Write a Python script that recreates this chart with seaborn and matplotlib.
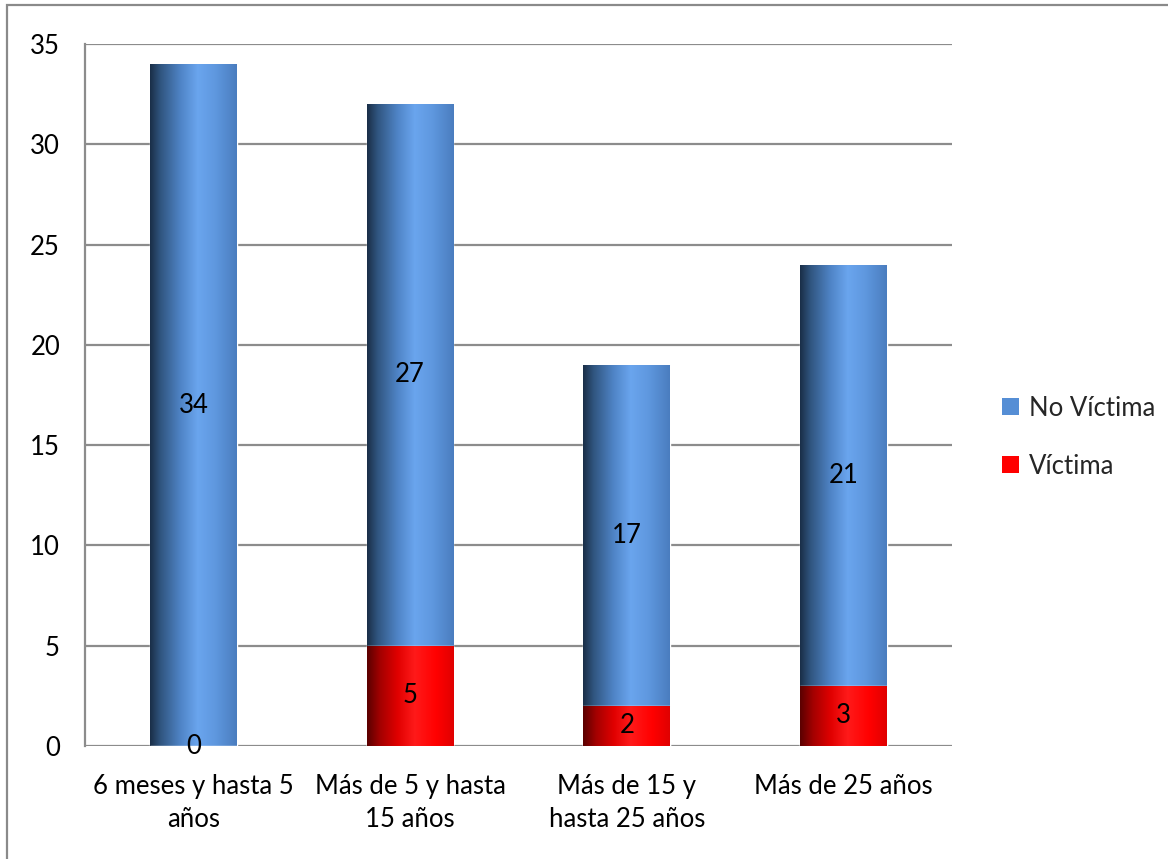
import numpy as np
import pandas as pd
import matplotlib
matplotlib.use("Agg")
import matplotlib.pyplot as plt
from matplotlib.colors import LinearSegmentedColormap
from matplotlib.patches import Patch, Rectangle
import seaborn as sns

# Data
categorias = ["6 meses y hasta 5\naños", "Más de 5 y hasta\n15 años",
              "Más de 15 y\nhasta 25 años", "Más de 25 años"]
no_victima = [34, 27, 17, 21]
victima = [0, 5, 2, 3]

sns.set_theme(style="white")
plt.rcParams["font.family"] = ["Lato", "DejaVu Sans"]

FS = 18.5

df = pd.DataFrame({"categoria": categorias,
                   "no_victima": no_victima,
                   "victima": victima})
df["total"] = df["no_victima"] + df["victima"]

fig = plt.figure(figsize=(11.68, 8.59), dpi=100)
ax = fig.add_axes([0.0728, 0.1315, 0.815 - 0.0728, 0.9488 - 0.1315])

grid_col = "#8c8c8c"
for v in range(0, 36, 5):
    ax.axhline(v, color=grid_col, lw=1.6, zorder=0.5)

# Stacked bars: totals (blue) first, then the Víctima segment (red) on top
sns.barplot(data=df, x="categoria", y="total", color="#558ed5",
            width=0.4, ax=ax, zorder=1, saturation=1)
n_blue = len(ax.patches)
sns.barplot(data=df, x="categoria", y="victima", color="#ff0000",
            width=0.4, ax=ax, zorder=1.5, saturation=1)

blue_cmap = LinearSegmentedColormap.from_list(
    "cil_azul", [(0.0, "#1a2e47"), (0.12, "#30557f"), (0.35, "#4f84c6"),
                 (0.55, "#6aa5ee"), (0.75, "#5f98df"), (1.0, "#4a7dbf")])
red_cmap = LinearSegmentedColormap.from_list(
    "cil_rojo", [(0.0, "#5a0000"), (0.15, "#a30000"), (0.35, "#e00000"),
                 (0.55, "#ff1a1a"), (0.8, "#ff0000"), (1.0, "#e00000")])

grad = np.linspace(0, 1, 256).reshape(1, -1)
for i, p in enumerate(list(ax.patches)):
    x0, y0 = p.get_x(), p.get_y()
    w, h = p.get_width(), p.get_height()
    if h <= 0:
        continue
    cmap = blue_cmap if i < n_blue else red_cmap
    z = 1.2 if i < n_blue else 1.7
    im = ax.imshow(grad, cmap=cmap, aspect="auto",
                   extent=[x0, x0 + w, y0, y0 + h], zorder=z,
                   interpolation="bilinear")
    im.set_clip_path(p)

# Value labels centred in each segment
for i in range(len(df)):
    nv, v = df["no_victima"][i], df["victima"][i]
    ax.text(i, v + nv / 2, str(nv), ha="center", va="center",
            fontsize=FS, color="black", zorder=4)
    ax.text(i, v / 2, str(v), ha="center", va="center",
            fontsize=FS, color="black", zorder=4)

ax.set_xlim(-0.5, 3.5)
ax.set_ylim(0, 35)
ax.set_yticks(range(0, 36, 5))
ax.set_xlabel("")
ax.set_ylabel("")
ax.tick_params(axis="y", labelsize=FS, pad=18, length=0, colors="black")
ax.tick_params(axis="x", labelsize=FS, pad=20, length=0, colors="black")
for lbl in ax.get_xticklabels():
    lbl.set_linespacing(1.4)

for s in ["top", "right", "bottom"]:
    ax.spines[s].set_visible(False)
ax.spines["left"].set_color(grid_col)
ax.spines["left"].set_linewidth(1.6)
ax.patch.set_alpha(0)

handles = [Patch(facecolor="#558ed5", edgecolor="none", label="No Víctima"),
           Patch(facecolor="#ff0000", edgecolor="none", label="Víctima")]
fig.legend(handles=handles, loc="center left",
           bbox_to_anchor=(0.838, 0.491), frameon=False, fontsize=FS,
           handlelength=0.65, handleheight=0.65, handletextpad=0.4,
           labelspacing=1.3)

# Outer chart border
fig.patches.append(Rectangle((7 / 1168, -0.05), 1.2, 1 - 5 / 859 + 0.05,
                             transform=fig.transFigure, fill=False,
                             edgecolor="#8a8a8a", lw=1.6))

fig.savefig("out.png", dpi=100, facecolor="white")
